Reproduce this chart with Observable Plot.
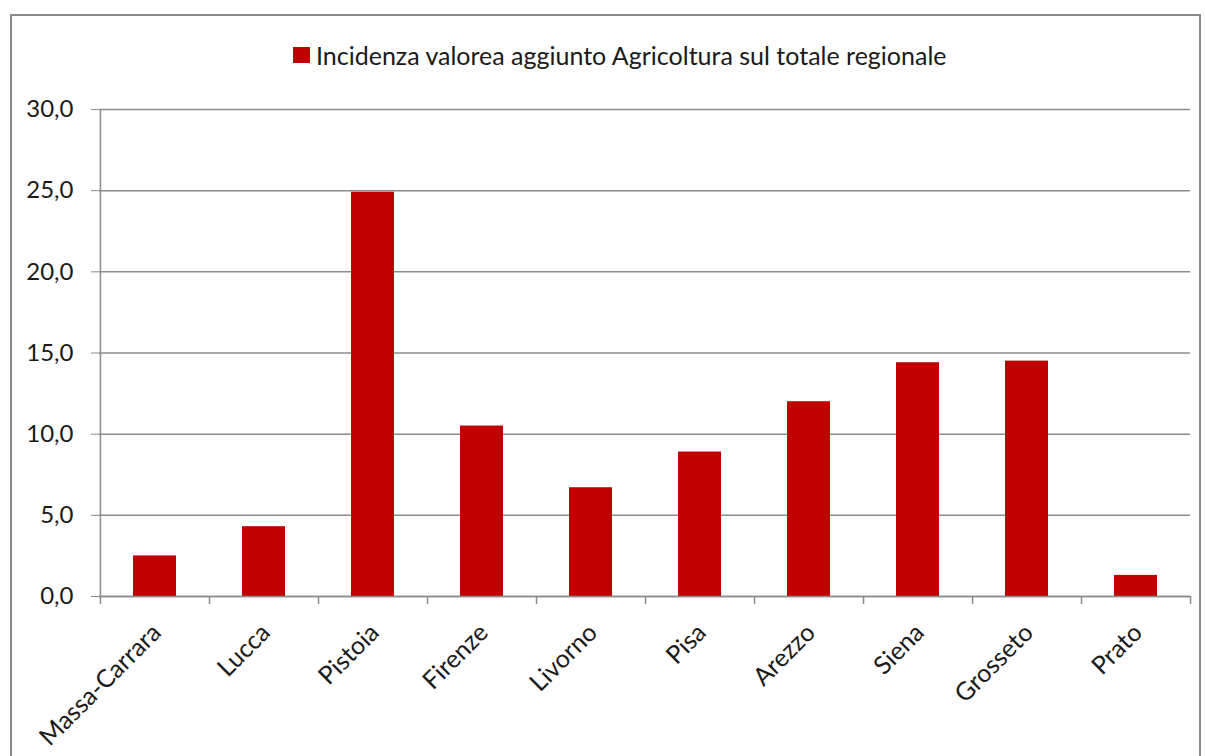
<!DOCTYPE html>
<html>
<head>
<meta charset="utf-8">
<script src="https://cdn.jsdelivr.net/npm/d3@7"></script>
<script src="https://cdn.jsdelivr.net/npm/@observablehq/plot@0.6"></script>
<style>
  html, body { margin: 0; padding: 0; background: #fff; width: 1205px; height: 756px; overflow: hidden; }
  #wrap { position: relative; width: 1205px; height: 756px; font-family: "Lato", sans-serif; }
  #frame { position: absolute; left: 10px; top: 14px; width: 1191px; height: 780px; border: 2px solid #8a8a8a; box-sizing: border-box; }
  #legend { position: absolute; left: 293px; top: 40px; height: 30px; display: flex; align-items: center; font-size: 25px; color: #1a1a1a; white-space: nowrap; }
  #legend .sw { width: 17px; height: 16px; background: #c00000; margin-right: 6px; }
  #chart { position: absolute; left: 0; top: 80px; }
</style>
</head>
<body>
<div id="wrap">
  <div id="frame"></div>
  <div id="legend"><span class="sw"></span><span id="legtext"></span></div>
  <div id="chart"></div>
</div>
<script>
const categories = ["Massa-Carrara", "Lucca", "Pistoia", "Firenze", "Livorno", "Pisa", "Arezzo", "Siena", "Grosseto", "Prato"];
const values = [2.5, 4.3, 24.9, 10.5, 6.7, 8.9, 12.0, 14.4, 14.5, 1.3];
const yTicks = [0, 5, 10, 15, 20, 25, 30];
const seriesName = "Incidenza valorea aggiunto Agricoltura sul totale regionale";

document.getElementById("legtext").textContent = seriesName;

const data = categories.map((c, i) => ({ provincia: c, valore: values[i] }));

const W = 1205, H = 676;
const mL = 99, mR = 15, mT = 29, mB = 160;
const step = (W - mL - mR) / categories.length;
const fmt = d => d.toFixed(1).replace(".", ",");

const chart = Plot.plot({
  width: W,
  height: H,
  marginLeft: mL,
  marginRight: mR,
  marginTop: mT,
  marginBottom: mB,
  style: { fontFamily: "Lato, sans-serif", fontSize: "24px", color: "#1a1a1a", background: "transparent", overflow: "visible" },
  x: { domain: categories, padding: 0, axis: null },
  y: { domain: [0, 30], ticks: yTicks, tickFormat: fmt, label: null, axis: null },
  marks: [
    Plot.ruleY(yTicks, { stroke: "#8c8c8c", strokeWidth: 1.5 }),
    Plot.axisY({ ticks: yTicks, tickFormat: fmt, label: null, tickSize: 8, tickPadding: 18, stroke: "#8c8c8c", strokeOpacity: 1, fontSize: 24, fill: "#1a1a1a" }),
    Plot.barY(data, { x: "provincia", y: "valore", fill: "#c00000", insetLeft: 33, insetRight: 33 }),
    Plot.ruleX([categories[0]], { x: d => d, dx: -step / 2, y1: -0.5, y2: 30, stroke: "#8c8c8c", strokeWidth: 1.5 }),
    Plot.ruleX(categories, { x: d => d, dx: step / 2, y1: -0.5, y2: 0, stroke: "#8c8c8c", strokeWidth: 1.5 }),
    Plot.ruleY([0], { stroke: "#8c8c8c", strokeWidth: 1.5 }),
    Plot.text(data, { x: "provincia", y: () => 0, text: "provincia", rotate: -45, textAnchor: "end", dx: 2, dy: 32, fontSize: 25, fill: "#1a1a1a" })
  ]
});
document.getElementById("chart").appendChild(chart);
</script>
</body>
</html>
